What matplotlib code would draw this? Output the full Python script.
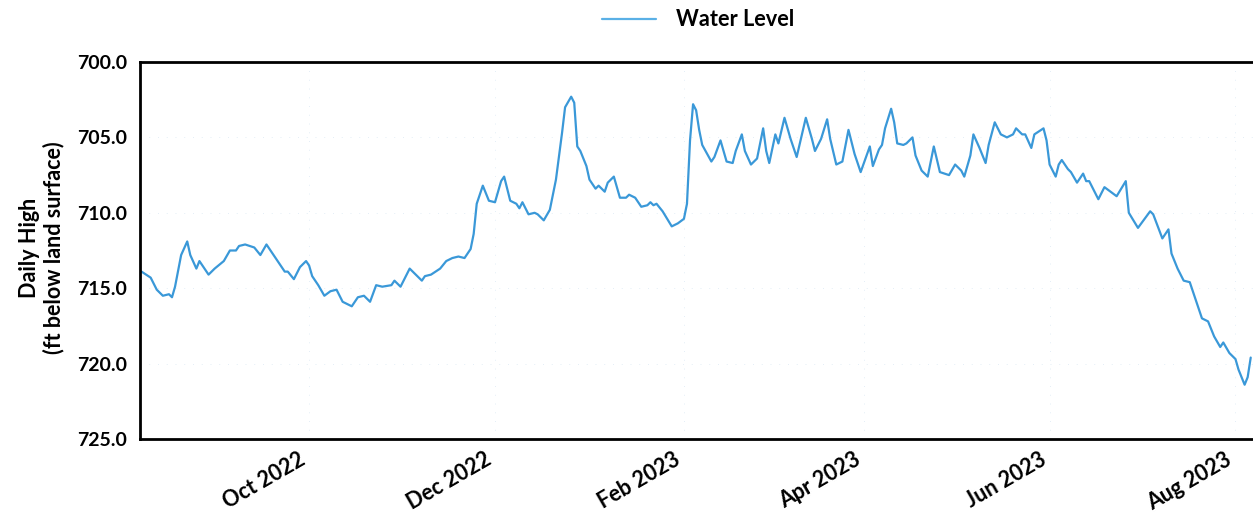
import matplotlib
matplotlib.use("Agg")
import matplotlib.pyplot as plt
import matplotlib.dates as mdates
import pandas as pd

# ---- data ----
dates = [
    "2022-08-07", "2022-08-10", "2022-08-12", "2022-08-14", "2022-08-16", "2022-08-17",
    "2022-08-18", "2022-08-20", "2022-08-22", "2022-08-23", "2022-08-25", "2022-08-26",
    "2022-08-27", "2022-08-29", "2022-08-31", "2022-09-03", "2022-09-05", "2022-09-07",
    "2022-09-08", "2022-09-10", "2022-09-13", "2022-09-15", "2022-09-17", "2022-09-19",
    "2022-09-21", "2022-09-23", "2022-09-24", "2022-09-26", "2022-09-28", "2022-09-30",
    "2022-10-01", "2022-10-02", "2022-10-04", "2022-10-06", "2022-10-08", "2022-10-10",
    "2022-10-12", "2022-10-15", "2022-10-17", "2022-10-19", "2022-10-21", "2022-10-23",
    "2022-10-25", "2022-10-28", "2022-10-29", "2022-10-31", "2022-11-03", "2022-11-05",
    "2022-11-07", "2022-11-08", "2022-11-10", "2022-11-13", "2022-11-15", "2022-11-17",
    "2022-11-19", "2022-11-21", "2022-11-23", "2022-11-24", "2022-11-25", "2022-11-27",
    "2022-11-29", "2022-12-01", "2022-12-03", "2022-12-04", "2022-12-06", "2022-12-08",
    "2022-12-09", "2022-12-10", "2022-12-12", "2022-12-14", "2022-12-15", "2022-12-17",
    "2022-12-19", "2022-12-20", "2022-12-21", "2022-12-23", "2022-12-24", "2022-12-26",
    "2022-12-27", "2022-12-28", "2022-12-29", "2022-12-31", "2023-01-01", "2023-01-03",
    "2023-01-04", "2023-01-06", "2023-01-07", "2023-01-09", "2023-01-10", "2023-01-11",
    "2023-01-13", "2023-01-14", "2023-01-16", "2023-01-18", "2023-01-20", "2023-01-21",
    "2023-01-22", "2023-01-23", "2023-01-25", "2023-01-28", "2023-01-30", "2023-02-01",
    "2023-02-02", "2023-02-03", "2023-02-04", "2023-02-05", "2023-02-06", "2023-02-07",
    "2023-02-10", "2023-02-11", "2023-02-13", "2023-02-15", "2023-02-17", "2023-02-18",
    "2023-02-20", "2023-02-21", "2023-02-23", "2023-02-25", "2023-02-27", "2023-02-28",
    "2023-03-01", "2023-03-03", "2023-03-04", "2023-03-06", "2023-03-08", "2023-03-10",
    "2023-03-13", "2023-03-15", "2023-03-16", "2023-03-18", "2023-03-20", "2023-03-21",
    "2023-03-23", "2023-03-25", "2023-03-27", "2023-03-29", "2023-03-31", "2023-04-03",
    "2023-04-04", "2023-04-06", "2023-04-07", "2023-04-08", "2023-04-10", "2023-04-11",
    "2023-04-12", "2023-04-14", "2023-04-15", "2023-04-17", "2023-04-18", "2023-04-20",
    "2023-04-22", "2023-04-24", "2023-04-26", "2023-04-29", "2023-05-01", "2023-05-03",
    "2023-05-04", "2023-05-06", "2023-05-07", "2023-05-09", "2023-05-11", "2023-05-12",
    "2023-05-14", "2023-05-16", "2023-05-18", "2023-05-20", "2023-05-21", "2023-05-23",
    "2023-05-24", "2023-05-26", "2023-05-27", "2023-05-30", "2023-05-31", "2023-06-01",
    "2023-06-03", "2023-06-04", "2023-06-05", "2023-06-07", "2023-06-08", "2023-06-10",
    "2023-06-12", "2023-06-13", "2023-06-14", "2023-06-17", "2023-06-19", "2023-06-23",
    "2023-06-26", "2023-06-27", "2023-06-30", "2023-07-04", "2023-07-05", "2023-07-08",
    "2023-07-10", "2023-07-11", "2023-07-13", "2023-07-15", "2023-07-17", "2023-07-18",
    "2023-07-21", "2023-07-23", "2023-07-25", "2023-07-27", "2023-07-28", "2023-07-30",
    "2023-08-01", "2023-08-02", "2023-08-04", "2023-08-05", "2023-08-06",
]

water_level = [
    713.9, 714.3, 715.1, 715.5, 715.4, 715.6,
    714.9, 712.8, 711.9, 712.8, 713.7, 713.2,
    713.5, 714.1, 713.7, 713.2, 712.5, 712.5,
    712.2, 712.1, 712.3, 712.8, 712.1, 712.7,
    713.3, 713.9, 713.9, 714.4, 713.6, 713.2,
    713.5, 714.2, 714.8, 715.5, 715.2, 715.1,
    715.9, 716.2, 715.6, 715.5, 715.9, 714.8,
    714.9, 714.8, 714.5, 714.9, 713.7, 714.1,
    714.5, 714.2, 714.1, 713.7, 713.2, 713.0,
    712.9, 713.0, 712.4, 711.4, 709.4, 708.2,
    709.2, 709.3, 707.9, 707.6, 709.2, 709.4,
    709.7, 709.3, 710.1, 710.0, 710.1, 710.5,
    709.8, 708.8, 707.8, 704.7, 703.0, 702.3,
    702.7, 705.6, 705.9, 706.9, 707.8, 708.4,
    708.2, 708.6, 708.0, 707.6, 708.3, 709.0,
    709.0, 708.8, 709.0, 709.6, 709.5, 709.3,
    709.5, 709.4, 709.9, 710.9, 710.7, 710.4,
    709.4, 705.2, 702.8, 703.2, 704.5, 705.5,
    706.6, 706.3, 705.2, 706.6, 706.7, 705.9,
    704.8, 705.9, 706.8, 706.4, 704.4, 705.9,
    706.7, 704.8, 705.4, 703.7, 705.1, 706.3,
    703.7, 705.1, 705.9, 705.1, 703.8, 705.1,
    706.8, 706.6, 704.5, 706.1, 707.3, 705.6,
    706.9, 705.8, 705.5, 704.4, 703.1, 704.0,
    705.4, 705.5, 705.4, 705.0, 706.2, 707.2,
    707.6, 705.6, 707.3, 707.5, 706.8, 707.2,
    707.6, 706.2, 704.8, 705.7, 706.7, 705.5,
    704.0, 704.8, 705.0, 704.8, 704.4, 704.8,
    704.8, 705.7, 704.8, 704.4, 705.2, 706.8,
    707.6, 706.8, 706.5, 707.1, 707.3, 708.0,
    707.4, 707.9, 707.9, 709.1, 708.3, 708.9,
    707.9, 710.0, 711.0, 709.9, 710.1, 711.7,
    711.1, 712.7, 713.7, 714.5, 714.6, 715.2,
    717.0, 717.2, 718.2, 718.9, 718.6, 719.3,
    719.7, 720.4, 721.4, 720.9, 719.6,
]

y_ticks = [700.0, 705.0, 710.0, 715.0, 720.0, 725.0]
series_name = "Water Level"
y_label = "Daily High\n(ft below land surface)"

# ---- styling ----
FONT = ["Lato", "DejaVu Sans"]
plt.rcParams["font.family"] = FONT
plt.rcParams["font.weight"] = "bold"

fig = plt.figure(figsize=(12.53, 5.25), dpi=100)
ax = fig.add_axes([140 / 1253, 1 - 439 / 525, 1 - 140 / 1253, (439 - 62) / 525])

x = pd.to_datetime(dates)
line_color = "#3a98d8"
ax.plot(x, water_level, color=line_color, linewidth=1.6, label=series_name,
        solid_joinstyle="round", solid_capstyle="round")

ax.set_ylim(725, 700)
ax.set_yticks(y_ticks)
ax.set_yticklabels([f"{v:.1f}" for v in y_ticks])
ax.set_xlim(pd.Timestamp("2022-08-06 12:00"), pd.Timestamp("2023-08-06 18:00"))

ax.xaxis.set_major_locator(mdates.MonthLocator(bymonth=[2, 4, 6, 8, 10, 12]))
ax.xaxis.set_major_formatter(mdates.DateFormatter("%b %Y"))

ax.tick_params(axis="both", length=0)
ax.tick_params(axis="y", pad=9, labelsize=14)
ax.tick_params(axis="x", pad=7, labelsize=15.5)
for lab in ax.get_xticklabels():
    lab.set_rotation(30)
    lab.set_ha("right")
    lab.set_rotation_mode("default")
for lab in ax.get_xticklabels() + ax.get_yticklabels():
    lab.set_fontweight("bold")

for side in ["left", "top", "bottom"]:
    ax.spines[side].set_linewidth(2.0)
    ax.spines[side].set_color("black")
ax.spines["right"].set_visible(False)

ax.grid(True, color="#e4eef6", linestyle=(0, (1, 8)), linewidth=0.7)
ax.set_axisbelow(True)

fig.text(42 / 1253, 1 - 248 / 525, y_label, rotation=90, ha="center", va="center",
         fontsize=15.5, fontweight="bold", linespacing=1.15)

leg = fig.legend(handles=ax.get_lines(), labels=[series_name], loc="center",
                 bbox_to_anchor=(698 / 1253, 1 - 20 / 525), frameon=False,
                 prop={"size": 15.7, "weight": "bold"}, handlelength=2.5,
                 handletextpad=0.9)
for h in leg.get_lines():
    h.set_color("#5ab0e6")
    h.set_linewidth(1.6)

fig.savefig("out.png", dpi=100)
